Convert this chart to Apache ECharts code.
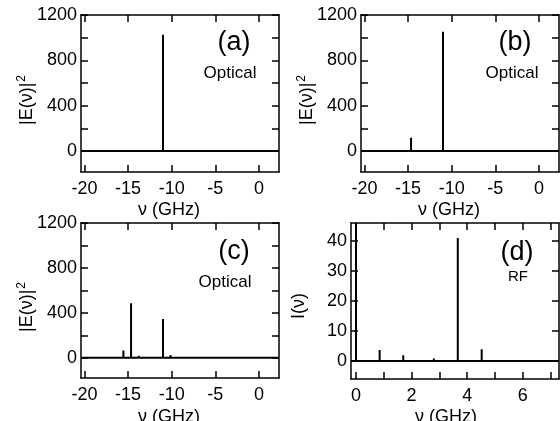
<!DOCTYPE html>
<html>
<head>
<meta charset="utf-8">
<script src="https://cdn.jsdelivr.net/npm/echarts@6/dist/echarts.min.js"></script>
<style>
html,body{margin:0;padding:0;background:#fff;}
#c{width:560px;height:421px;}
</style>
</head>
<body>
<div id="c"></div>
<script>
// ---- data ----
const optXTicks = [-20, -15, -10, -5, 0];
const optYLabels = [0, 400, 800, 1200];
const optYTicks = [0, 200, 400, 600, 800, 1000, 1200];
const rfXLabels = [0, 2, 4, 6];
const rfXTicks = [0, 1, 2, 3, 4, 5, 6, 7];
const rfYLabels = [0, 10, 20, 30, 40];

const peaksA_pos = [-11.0];
const peaksA_val = [1025];
const peaksB_pos = [-14.66, -11.0];
const peaksB_val = [118, 1053];
const peaksC_pos = [-15.54, -14.66, -13.78, -11.89, -11.0, -10.13];
const peaksC_val = [64, 485, 18, 10, 345, 25];
const peaksD_pos = [0.0, 0.85, 1.7, 2.8, 3.66, 4.52];
const peaksD_val = [46, 3.7, 1.9, 0.8, 41, 3.9];

const panelTags = ['(a)', '(b)', '(c)', '(d)'];
const panelKinds = ['Optical', 'Optical', 'Optical', 'RF'];
const xName = 'ν (GHz)';
const yNameOptBase = '|E(ν)|';
const yNameOptSup = '2';
const yNameRF = 'I(ν)';

// ---- helpers ----
const FF = 'Liberation Sans, Arial, Helvetica, sans-serif';
function spikes(pos, val, xmin, xmax) {
  const d = [[xmin, 0]];
  for (let i = 0; i < pos.length; i++) {
    d.push([pos[i], 0], [pos[i], val[i]], [pos[i], 0]);
  }
  d.push([xmax, 0]);
  return d;
}
function axisCommon(gi, pos, min, max, labels, ticks, showLabel, margin) {
  return {
    type: 'value', gridIndex: gi, position: pos, min: min, max: max,
    axisLine: {show: true, onZero: false, lineStyle: {color: '#000', width: 1.5}},
    axisTick: {show: true, inside: true, length: 7, customValues: ticks, lineStyle: {color: '#000', width: 1.5}},
    axisLabel: {show: showLabel, customValues: labels, color: '#000', fontSize: 18, fontFamily: FF, margin: margin,
      formatter: function (v) { return String(v); }},
    splitLine: {show: false}
  };
}

const panels = [
  {grid: {left: 81, top: 15, width: 198, height: 157}, xr: [-20.4, 2.3], yr: [-185, 1200],
   xl: optXTicks, xt: optXTicks, yl: optYLabels, yt: optYTicks, p: peaksA_pos, v: peaksA_val},
  {grid: {left: 361, top: 15, width: 198, height: 157}, xr: [-20.4, 2.3], yr: [-185, 1200],
   xl: optXTicks, xt: optXTicks, yl: optYLabels, yt: optYTicks, p: peaksB_pos, v: peaksB_val},
  {grid: {left: 81, top: 223, width: 198, height: 155}, xr: [-20.4, 2.3], yr: [-180, 1200],
   xl: optXTicks, xt: optXTicks, yl: optYLabels, yt: optYTicks, p: peaksC_pos, v: peaksC_val},
  {grid: {left: 351, top: 223, width: 208, height: 156}, xr: [-0.18, 7.3], yr: [-6, 46],
   xl: rfXLabels, xt: rfXTicks, yl: rfYLabels, yt: rfYLabels, p: peaksD_pos, v: peaksD_val}
];

const grids = [], xAxes = [], yAxes = [], series = [];
panels.forEach((P, i) => {
  grids.push(P.grid);
  xAxes.push(axisCommon(i, 'bottom', P.xr[0], P.xr[1], P.xl, P.xt, true, 8));
  xAxes.push(axisCommon(i, 'top', P.xr[0], P.xr[1], P.xl, P.xt, false, 8));
  yAxes.push(axisCommon(i, 'left', P.yr[0], P.yr[1], P.yl, P.yt, true, 4));
  yAxes.push(axisCommon(i, 'right', P.yr[0], P.yr[1], P.yl, P.yt, false, 4));
  series.push({
    type: 'line', xAxisIndex: 2 * i, yAxisIndex: 2 * i,
    data: spikes(P.p, P.v, P.xr[0], P.xr[1]),
    showSymbol: false, symbol: 'none', animation: false, clip: true,
    lineStyle: {color: '#000', width: 2}
  });
});

function txt(x, y, s, size, rot) {
  return {type: 'text', x: x, y: y, rotation: rot || 0,
    style: {text: s, fill: '#000', font: size + 'px ' + FF, textAlign: 'center', textVerticalAlign: 'middle'}};
}
function supTxt(x, y) {
  return {type: 'text', x: x, y: y, rotation: Math.PI / 2,
    style: {
      text: '{b|' + yNameOptBase + '}{s|' + yNameOptSup + '}',
      fill: '#000', font: '18px ' + FF, textAlign: 'center', textVerticalAlign: 'middle',
      rich: {
        b: {fontSize: 18, fontFamily: FF, fill: '#000', lineHeight: 20},
        s: {fontSize: 12, fontFamily: FF, fill: '#000', lineHeight: 20, padding: [0, 0, 10, 1]}
      }
    }};
}
const tagPos = [[234, 43], [515, 43], [234, 252], [517, 253]];
const kindPos = [[230, 73], [512, 73], [225, 282], [518, 277]];
const graphics = [];
for (let i = 0; i < 4; i++) {
  graphics.push(txt(tagPos[i][0], tagPos[i][1], panelTags[i], 27));
  graphics.push(txt(kindPos[i][0], kindPos[i][1], panelKinds[i], i === 3 ? 15 : 17));
}
graphics.push(txt(169, 210, xName, 18));
graphics.push(txt(449, 210, xName, 18));
graphics.push(txt(169, 417, xName, 18));
graphics.push(txt(446, 417, xName, 18));
graphics.push(supTxt(27, 100));
graphics.push(supTxt(307, 100));
graphics.push(supTxt(27, 307));
graphics.push(txt(299, 306, yNameRF, 18, Math.PI / 2));

const chart = echarts.init(document.getElementById('c'), null, {renderer: 'canvas'});
chart.setOption({
  animation: false,
  backgroundColor: '#fff',
  grid: grids, xAxis: xAxes, yAxis: yAxes, series: series,
  graphic: graphics
});
</script>
</body>
</html>
